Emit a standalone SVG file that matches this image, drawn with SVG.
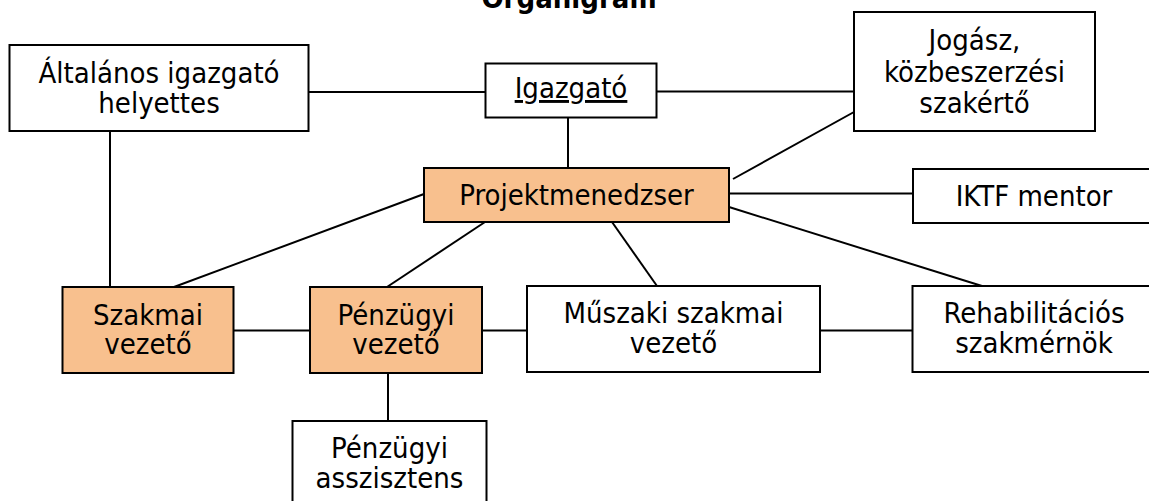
<svg xmlns="http://www.w3.org/2000/svg" width="1149" height="501" viewBox="0 0 1149 501">
<style>
.box{fill:#ffffff;stroke:#000000;stroke-width:2}
.hl{fill:#F8C08E;stroke:#000000;stroke-width:2}
.t{font-family:"DejaVu Sans Condensed","DejaVu Sans",Verdana,sans-serif;font-stretch:condensed;font-size:29px;fill:#000000;text-anchor:middle}
.title{font-family:"DejaVu Sans Condensed","DejaVu Sans",Verdana,sans-serif;font-stretch:condensed;font-size:29px;font-weight:bold;fill:#000000;text-anchor:middle}
#connectors line{stroke:#000000;stroke-width:2}
</style>
<rect width="1149" height="501" fill="#ffffff"/>
<text class="title" x="569" y="8">Organigram</text>
<g id="connectors">
<line x1="309" y1="92" x2="485" y2="92"/>
<line x1="657" y1="91.5" x2="857" y2="91.5"/>
<line x1="110" y1="131" x2="110" y2="287"/>
<line x1="568" y1="117" x2="568" y2="168"/>
<line x1="733" y1="179" x2="854" y2="112"/>
<line x1="729" y1="193.5" x2="913" y2="193.5"/>
<line x1="424" y1="194" x2="174" y2="287"/>
<line x1="485" y1="222" x2="387" y2="287"/>
<line x1="612" y1="222" x2="657" y2="286"/>
<line x1="729" y1="207" x2="982" y2="286"/>
<line x1="233" y1="330.5" x2="310" y2="330.5"/>
<line x1="482" y1="330.5" x2="527" y2="330.5"/>
<line x1="820" y1="330.5" x2="912" y2="330.5"/>
<line x1="388" y1="373" x2="388" y2="421"/>
</g>
<g id="altalanos">
<rect class="box" x="9.5" y="45" width="299" height="86"/>
<text class="t" x="159" y="83">Általános igazgató</text>
<text class="t" x="159" y="113">helyettes</text>
</g>
<g id="igazgato">
<rect class="box" x="485.5" y="63.5" width="171" height="54"/>
<text class="t" x="571" y="98" text-decoration="underline">Igazgató</text>
</g>
<g id="jogasz">
<rect class="box" x="854" y="12" width="241" height="119"/>
<text class="t" x="974.5" y="50">Jogász,</text>
<text class="t" x="974.5" y="82">közbeszerzési</text>
<text class="t" x="974.5" y="113">szakértő</text>
</g>
<g id="projektmenedzser">
<rect class="hl" x="424" y="168" width="305" height="54"/>
<text class="t" x="576.5" y="205">Projektmenedzser</text>
</g>
<g id="iktf">
<rect class="box" x="913" y="169" width="243" height="54"/>
<text class="t" x="1034" y="206">IKTF mentor</text>
</g>
<g id="szakmai">
<rect class="hl" x="62.5" y="287" width="171" height="86"/>
<text class="t" x="148" y="325">Szakmai</text>
<text class="t" x="148" y="354">vezető</text>
</g>
<g id="penzugyi">
<rect class="hl" x="310" y="287" width="172" height="86"/>
<text class="t" x="396" y="325">Pénzügyi</text>
<text class="t" x="396" y="354">vezető</text>
</g>
<g id="muszaki">
<rect class="box" x="527" y="286" width="293" height="86"/>
<text class="t" x="673.5" y="323">Műszaki szakmai</text>
<text class="t" x="673.5" y="353">vezető</text>
</g>
<g id="rehab">
<rect class="box" x="912.5" y="286" width="244" height="86"/>
<text class="t" x="1034" y="323">Rehabilitációs</text>
<text class="t" x="1034" y="353">szakmérnök</text>
</g>
<g id="asszisztens">
<rect class="box" x="292.5" y="421" width="194" height="100"/>
<text class="t" x="389.5" y="458">Pénzügyi</text>
<text class="t" x="389.5" y="488">asszisztens</text>
</g>
</svg>
